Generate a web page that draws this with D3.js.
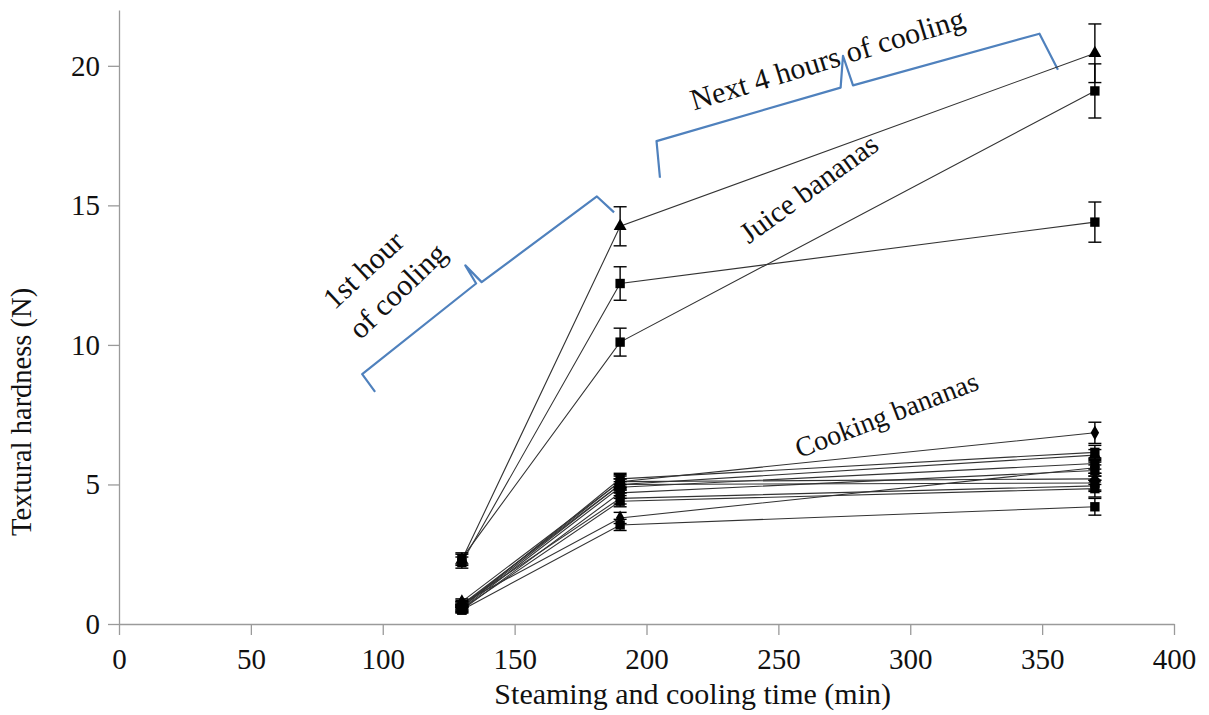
<!DOCTYPE html>
<html>
<head>
<meta charset="utf-8">
<script src="https://cdn.jsdelivr.net/npm/d3@7"></script>
<style>
  body { margin: 0; background: #fff; }
  svg text { font-family: "Liberation Serif", "Times New Roman", serif; fill: #111; }
  .axis path, .axis line { stroke: #9a9a9a; stroke-width: 1.3; }
  .axis text { font-size: 29px; }
  .axis-label { font-size: 30px; }
  .note { font-size: 30px; }
  .series-line { fill: none; stroke: #333; stroke-width: 1.1; }
  .err { stroke: #000; stroke-width: 1.4; }
  .brace { fill: none; stroke: #4f81bd; stroke-width: 2.2; stroke-linejoin: round; }
</style>
</head>
<body>
<div id="chart"></div>
<script>
// Sampling times (min)
const times = [130, 190, 370];

// Juice bananas
const juiceShapes = ["triangle", "square", "square"];
const juiceValues = [
    [2.3, 14.25, 20.45],
    [2.2, 12.2, 14.4],
    [2.35, 10.1, 19.1]
];
const juiceErrors = [
    [0.2, 0.7, 1.05],
    [0.2, 0.6, 0.72],
    [0.2, 0.5, 0.97]
];

// Cooking bananas
const cookingShapes = ["diamond", "square", "triangle", "square", "diamond", "square",
    "triangle", "square", "diamond", "square", "square"];
const cookingValues = [
    [0.8, 5.1, 6.85],
    [0.6, 5.2, 6.15],
    [0.7, 5.0, 6.05],
    [0.55, 4.9, 5.75],
    [0.75, 3.8, 5.6],
    [0.5, 4.7, 5.5],
    [0.65, 5.1, 5.2],
    [0.6, 5.0, 5.05],
    [0.7, 4.5, 4.95],
    [0.55, 4.4, 4.85],
    [0.5, 3.55, 4.2]
];
const cookingErrors = [
    [0.1, 0.2, 0.38],
    [0.1, 0.2, 0.25],
    [0.1, 0.2, 0.2],
    [0.1, 0.2, 0.2],
    [0.1, 0.2, 0.2],
    [0.1, 0.2, 0.2],
    [0.1, 0.25, 0.2],
    [0.1, 0.2, 0.25],
    [0.1, 0.2, 0.2],
    [0.1, 0.2, 0.3],
    [0.1, 0.2, 0.3]
];

// Axis ticks
const xTicks = [0, 50, 100, 150, 200, 250, 300, 350, 400];
const yTicks = [0, 5, 10, 15, 20];

// Annotation braces, in data units (time, hardness)
const brace1 = [[97.1, 8.32], [92.2, 8.95], [135.4, 12.2], [131.3, 12.85], [137.5, 12.25], [181.2, 15.32], [187.7, 14.75]];
const brace2 = [[205.1, 15.99], [203.8, 17.3], [273.6, 19.22], [274.5, 20.36], [278.3, 19.3], [349.0, 21.15], [356.0, 19.86]];

// SVG size
const width_raw = 1209,
    height_raw = 715;
const margin = {top: 10, right: 35, bottom: 91, left: 119};
let width = width_raw - margin.left - margin.right,
    height = height_raw - margin.top - margin.bottom;

let svg = d3.select("#chart")
    .append("svg")
    .attr("width", width_raw)
    .attr("height", height_raw)
    .append("g")
    .attr("transform", `translate(${margin.left}, ${margin.top})`);

// Scales
let timeScale = d3.scaleLinear()
    .domain([0, 400])
    .range([0, width]);

let hardScale = d3.scaleLinear()
    .domain([0, 22])
    .range([height, 0]);

// Axes
let xAxis = d3.axisBottom(timeScale)
    .tickValues(xTicks)
    .tickSizeInner(11)
    .tickSizeOuter(0)
    .tickPadding(13);

let yAxis = d3.axisLeft(hardScale)
    .tickValues(yTicks)
    .tickSizeInner(11)
    .tickSizeOuter(0)
    .tickPadding(8);

svg.append("g")
    .attr("class", "axis x-axis")
    .attr("transform", `translate(0, ${height})`)
    .call(xAxis);

svg.append("g")
    .attr("class", "axis y-axis")
    .call(yAxis);

// Axis labels
svg.append("text")
    .attr("class", "axis-label")
    .attr("text-anchor", "middle")
    .attr("x", timeScale(217.5))
    .attr("y", height + 80)
    .text("Steaming and cooling time (min)");

svg.append("text")
    .attr("class", "axis-label")
    .attr("text-anchor", "middle")
    .style("font-size", "28.5px")
    .attr("transform", `translate(${-88}, ${hardScale(7.6)}) rotate(-90)`)
    .text("Textural hardness (N)");

// Braces
let braceLine = d3.line()
    .x(d => timeScale(d[0]))
    .y(d => hardScale(d[1]));

[brace1, brace2].forEach(b => {
    svg.append("path")
        .attr("class", "brace")
        .attr("d", braceLine(b));
});

// Series
let allSeries = [];
juiceValues.forEach((v, i) => allSeries.push({shape: juiceShapes[i], values: v, errors: juiceErrors[i]}));
cookingValues.forEach((v, i) => allSeries.push({shape: cookingShapes[i], values: v, errors: cookingErrors[i]}));

let seriesLine = d3.line()
    .x((d, i) => timeScale(times[i]))
    .y(d => hardScale(d));

svg.selectAll(".series-line")
    .data(allSeries)
    .enter()
    .append("path")
    .attr("class", "series-line")
    .attr("d", d => seriesLine(d.values));

const symbolTypes = {square: d3.symbolSquare, triangle: d3.symbolTriangle, diamond: d3.symbolDiamond};
const symbolSizes = {square: 88, triangle: 72, diamond: 62};
const capHalf = 6.5;

allSeries.forEach(s => {
    let g = svg.append("g");
    s.values.forEach((v, i) => {
        let x = timeScale(times[i]);
        let lo = hardScale(v - s.errors[i]),
            hi = hardScale(v + s.errors[i]);
        g.append("line").attr("class", "err")
            .attr("x1", x).attr("x2", x).attr("y1", lo).attr("y2", hi);
        g.append("line").attr("class", "err")
            .attr("x1", x - capHalf).attr("x2", x + capHalf).attr("y1", lo).attr("y2", lo);
        g.append("line").attr("class", "err")
            .attr("x1", x - capHalf).attr("x2", x + capHalf).attr("y1", hi).attr("y2", hi);
        g.append("path")
            .attr("d", d3.symbol().type(symbolTypes[s.shape]).size(symbolSizes[s.shape]))
            .attr("transform", `translate(${x}, ${hardScale(v)})`)
            .attr("fill", "#000");
    });
});

// Annotation texts
const notes = [
    {text: "1st hour", t: 92.5, h: 12.7, angle: -43, size: 30},
    {text: "of cooling", t: 105.5, h: 11.95, angle: -44, size: 30},
    {text: "Next 4 hours of cooling", t: 268.5, h: 20.25, angle: -17, size: 30},
    {text: "Juice bananas", t: 261.5, h: 15.6, angle: -36, size: 29.5},
    {text: "Cooking bananas", t: 291, h: 7.5, angle: -21, size: 28}
];

notes.forEach(n => {
    svg.append("text")
        .attr("class", "note")
        .attr("text-anchor", "middle")
        .attr("dominant-baseline", "central")
        .style("font-size", n.size + "px")
        .attr("transform", `translate(${timeScale(n.t)}, ${hardScale(n.h)}) rotate(${n.angle})`)
        .text(n.text);
});
</script>
</body>
</html>
